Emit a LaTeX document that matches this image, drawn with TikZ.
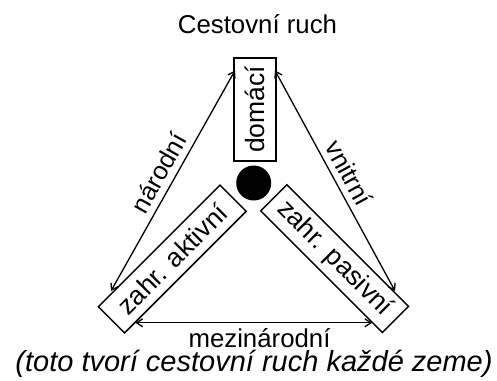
\documentclass[tikz,border=0pt]{standalone}
\usepackage{fontspec}
\setmainfont{Liberation Sans}
\usetikzlibrary{arrows.meta}
\begin{document}
\begin{tikzpicture}[x=1pt,y=-1pt,
  lbl/.style={font=\fontsize{25.5}{30}\selectfont, inner sep=0pt},
  boxnode/.style={draw, line width=1.5pt, inner sep=0pt, font=\fontsize{26.5}{30}\selectfont},
  conn/.style={line width=1.3pt, {Straight Barb[length=6pt,width=8pt,line width=1.3pt]}-{Straight Barb[length=6pt,width=8pt,line width=1.3pt]}}
]
\useasboundingbox (0,0) rectangle (497,380);
\node[lbl, anchor=base, font=\fontsize{25.8}{30}\selectfont] (title) at (257.5,33.3) {Cestovní ruch};
\node[boxnode, minimum width=103, minimum height=42, rotate=90] (dom) at (255,109.5) {domácí};
\node[boxnode, minimum width=172, minimum height=37, rotate=45] (akt) at (172.3,259) {zahr. aktivní};
\node[boxnode, minimum width=172, minimum height=37, rotate=-45] (pas) at (334.6,258.6) {zahr. pasivní};
\node[circle, fill=black, minimum size=35, inner sep=0pt] (dot) at (253.7,183) {};
\coordinate (dl) at (235,70.5);
\coordinate (dr) at (275,70.5);
\coordinate (al) at (111,291);
\coordinate (ab) at (135.5,322.8);
\coordinate (pr) at (395,291);
\coordinate (pb) at (372,322.8);
\draw[conn] (dl) -- node[lbl, sloped, above=6pt] (nar) {národní} (al);
\draw[conn] (dr) -- node[lbl, sloped, above=6pt] (vni) {vnitrní} (pr);
\draw[conn] (ab) -- (pb);
\node[lbl, anchor=base, font=\fontsize{25.8}{30}\selectfont] (mez) at (259.5,347.7) {mezinárodní};
\node[lbl, anchor=base, font=\fontsize{29}{34}\selectfont\itshape] (note) at (254,371.5) {(toto tvorí cestovní ruch každé zeme)};
\end{tikzpicture}
\end{document}
